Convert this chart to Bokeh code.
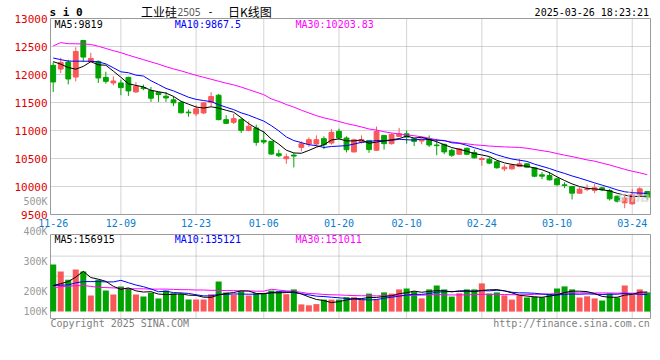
import numpy as np
from bokeh.plotting import figure
from bokeh.layouts import column
from bokeh.models import ColumnDataSource, Label, Range1d
from bokeh.core.properties import value
from bokeh.embed import file_html
from bokeh.resources import INLINE

# ---------------- data ----------------
dates = ["11-26", "11-27", "11-28", "11-29",
         "12-02", "12-03", "12-04", "12-05", "12-06", "12-09", "12-10", "12-11", "12-12", "12-13",
         "12-16", "12-17", "12-18", "12-19", "12-20", "12-23", "12-24", "12-25", "12-26", "12-27", "12-30", "12-31",
         "01-02", "01-03", "01-06", "01-07", "01-08", "01-09", "01-10", "01-13", "01-14", "01-15", "01-16", "01-17",
         "01-20", "01-21", "01-22", "01-23", "01-24", "01-27",
         "02-05", "02-06", "02-07", "02-10", "02-11", "02-12", "02-13", "02-14", "02-17", "02-18", "02-19", "02-20", "02-21",
         "02-24", "02-25", "02-26", "02-27", "02-28",
         "03-03", "03-04", "03-05", "03-06", "03-07", "03-10", "03-11", "03-12", "03-13", "03-14",
         "03-17", "03-18", "03-19", "03-20", "03-21", "03-24", "03-25", "03-26"]

tick_dates = ["11-26", "12-09", "12-23", "01-06", "01-20", "02-10", "02-24", "03-10", "03-24"]

open_ = [12163, 12097, 12222, 11955, 12607, 12234, 12234, 11949, 11849, 11849,
         11949, 11689, 11766, 11713, 11677, 11612, 11547, 11500, 11328, 11298,
         11313, 11504, 11630, 11194, 11146, 11194, 11003, 11045, 10824, 10806,
         10585, 10496, 10561, 10698, 10758, 10758, 10854, 10776, 10985, 10866,
         10618, 10788, 10823, 10647, 10912, 10765, 10894, 10941, 10853, 10812,
         10847, 10741, 10753, 10647, 10576, 10682, 10606, 10482, 10488, 10441,
         10315, 10315, 10357, 10405, 10333, 10208, 10196, 10137, 10030, 10000,
         9881, 9946, 9929, 9976, 9929, 9827, 9708, 9690, 9851, 9911]
high = [12222, 12299, 12263, 12488, 12620, 12388, 12251, 12050, 11967, 11908,
        11960, 11861, 11819, 11778, 11689, 11689, 11612, 11529, 11375, 11452,
        11510, 11684, 11654, 11272, 11296, 11224, 11164, 11104, 10985, 10810,
        10657, 10585, 10597, 10806, 10878, 10913, 10896, 11027, 11033, 10896,
        10853, 10912, 10830, 11070, 10920, 10953, 11047, 11000, 10865, 10853,
        10912, 10853, 10765, 10676, 10688, 10694, 10659, 10529, 10529, 10459,
        10393, 10405, 10494, 10417, 10345, 10256, 10256, 10155, 10077, 10000,
        9988, 10036, 10048, 9988, 9958, 9839, 9869, 9958, 9988, 9917]
low = [11689, 12026, 11825, 11878, 12222, 12216, 11849, 11837, 11807, 11630,
       11618, 11671, 11719, 11511, 11511, 11511, 11434, 11304, 11245, 11257,
       11295, 11433, 11182, 11116, 11116, 10955, 10985, 10728, 10758, 10567,
       10525, 10406, 10340, 10627, 10710, 10710, 10669, 10746, 10836, 10609,
       10606, 10765, 10600, 10635, 10659, 10747, 10882, 10765, 10723, 10753,
       10706, 10559, 10576, 10529, 10571, 10559, 10500, 10371, 10400, 10318,
       10274, 10303, 10345, 10333, 10167, 10131, 10107, 10018, 9970, 9768,
       9869, 9917, 9881, 9917, 9750, 9714, 9613, 9679, 9821, 9762]
close = [11867, 12216, 11920, 12411, 12311, 12287, 11938, 11878, 11884, 11766,
         11707, 11790, 11748, 11577, 11642, 11582, 11494, 11316, 11316, 11387,
         11492, 11606, 11194, 11128, 11212, 11003, 11075, 10788, 10794, 10579,
         10549, 10531, 10543, 10764, 10836, 10836, 10746, 10967, 10866, 10657,
         10835, 10835, 10659, 10982, 10765, 10929, 10941, 10882, 10806, 10835,
         10741, 10729, 10618, 10559, 10671, 10576, 10512, 10500, 10418, 10335,
         10345, 10375, 10405, 10345, 10184, 10184, 10119, 10030, 10018, 9881,
         9952, 9958, 9976, 9940, 9780, 9738, 9792, 9851, 9958, 9810]
volume = [289000, 266000, 238000, 272000, 266000, 186000, 238000, 202000, 189000, 216000,
          210000, 189000, 182000, 195000, 176000, 202000, 193000, 191000, 172000, 172000,
          172000, 190000, 232000, 196000, 188000, 200000, 186000, 193000, 192000, 202000,
          200000, 190000, 206000, 156000, 153000, 157000, 172000, 172000, 172000, 180000,
          180000, 172000, 192000, 172000, 196000, 192000, 206000, 209000, 199000, 176000,
          206000, 219000, 206000, 182000, 193000, 206000, 206000, 226000, 192000, 196000,
          186000, 172000, 186000, 179000, 182000, 180000, 190000, 209000, 216000, 206000,
          179000, 183000, 176000, 169000, 192000, 179000, 219000, 187000, 206000, 196000]

# moving-average values at the start of the window (they include days before 11-26)
ma5_head = [12230, 12185, 12125, 12095]
ma10_head = [12295, 12265, 12240, 12238, 12238, 12236, 12225, 12190, 12120]
ma30_head = [12510, 12570, 12550, 12548, 12545, 12536, 12505, 12465, 12425, 12390,
             12345, 12305, 12265, 12225, 12185, 12140, 12100, 12065, 12025, 11985,
             11950, 11915, 11880, 11845, 11815, 11775, 11730, 11685, 11640]
vma5_head = [219000, 225000, 232000, 247000]
vma10_head = [219000, 220000, 221000, 228000, 232000, 232000, 232000, 231000, 231000]
vma30_head = [211000, 215000, 217000, 218000, 219000, 216000, 213000, 212000, 211000, 210000,
              208000, 208000, 208000, 207000, 207000, 207000, 206000, 205000, 205000, 204000,
              204000, 203000, 203000, 202000, 202000, 201000, 201000, 200000, 200000]

price_ticks = [9500, 10000, 10500, 11000, 11500, 12000, 12500, 13000]
vol_ticks = [100000, 200000, 300000, 400000, 500000]
vol_grid = [250000, 317000]

# ---------------- layout / styling constants ----------------
RED = "#fa5858"
GREEN = "#00a300"
GRID = "#a8a8a8"
FRAME = "#9a9a9a"
MONO = "DejaVu Sans Mono"
CJK = "Noto Sans CJK SC"

W, H = 660, 330
FL, FR = 50, 650            # panel left / right (px)
XR = (-0.36, 79.43)         # index range spanned by the panels
PT, PB = 18, 214            # price panel top / bottom (px)
VT, VB = 234, 318           # volume panel top / bottom (px)
P_RANGE = (9500, 13000)
V_RANGE = (109000, 389000)
VOL_BASE = 132000


def px2x(px):
    return XR[0] + (px - FL) * (XR[1] - XR[0]) / (FR - FL)


def py2p(py):
    return P_RANGE[1] - (py - PT) * (P_RANGE[1] - P_RANGE[0]) / (PB - PT)


def py2v(py):
    return V_RANGE[1] - (py - VT) * (V_RANGE[1] - V_RANGE[0]) / (VB - VT)


def moving_average(vals, n, head):
    out = list(head)
    for i in range(n - 1, len(vals)):
        out.append(float(np.mean(vals[i - n + 1:i + 1])))
    return out


idx = np.arange(len(dates))
o = np.array(open_, float)
c = np.array(close, float)
colors = [RED if cc >= oo else GREEN for oo, cc in zip(o, c)]
tick_idx = [dates.index(d) for d in tick_dates]

src = ColumnDataSource(dict(
    x=idx, high=high, low=low, top=np.maximum(o, c), bottom=np.minimum(o, c),
    color=colors, vol=volume,
    ma5=moving_average(close, 5, ma5_head),
    ma10=moving_average(close, 10, ma10_head),
    ma30=moving_average(close, 30, ma30_head),
    vma5=moving_average(volume, 5, vma5_head),
    vma10=moving_average(volume, 10, vma10_head),
    vma30=moving_average(volume, 30, vma30_head),
))

p = figure(width=W, height=H,
           x_range=Range1d(px2x(0), px2x(W)), y_range=Range1d(py2p(H), py2p(0)),
           output_backend="svg", toolbar_location=None,
           x_axis_location=None, y_axis_location=None,
           min_border=0, min_border_left=0, min_border_right=0,
           min_border_top=0, min_border_bottom=0)
p.extra_y_ranges = {"vol": Range1d(py2v(H), py2v(0))}
p.grid.visible = False
p.outline_line_color = None
p.background_fill_color = "white"
p.border_fill_color = "white"

# ---- grid lines (dotted) ----
n_v = len(tick_idx) - 1
p.segment(x0=tick_idx[1:], y0=[P_RANGE[0]] * n_v, x1=tick_idx[1:], y1=[P_RANGE[1]] * n_v,
          line_color=GRID, line_dash="1 1", line_width=1)
hp = price_ticks[1:-1]
p.segment(x0=[XR[0]] * len(hp), y0=hp, x1=[XR[1]] * len(hp), y1=hp,
          line_color=GRID, line_dash="1 1", line_width=1)
p.segment(x0=tick_idx[1:], y0=[V_RANGE[0]] * n_v, x1=tick_idx[1:], y1=[V_RANGE[1]] * n_v,
          line_color=GRID, line_dash="1 1", line_width=1, y_range_name="vol")
p.segment(x0=[XR[0]] * len(vol_grid), y0=vol_grid, x1=[XR[1]] * len(vol_grid), y1=vol_grid,
          line_color=GRID, line_dash="1 1", line_width=1, y_range_name="vol")

# ---- panel borders ----
p.quad(left=[XR[0]], right=[XR[1]], bottom=[P_RANGE[0]], top=[P_RANGE[1]],
       fill_color=None, line_color=FRAME, line_width=1)
p.quad(left=[XR[0]], right=[XR[1]], bottom=[V_RANGE[0]], top=[V_RANGE[1]],
       fill_color=None, line_color=FRAME, line_width=1, y_range_name="vol")

# ---- watermark ----
p.add_layout(Label(x=px2x(617), y=py2p(196), text="sina", text_color="#d2d2d2",
                   text_font_size="14px", text_font="DejaVu Sans", text_font_style="bold italic",
                   text_align="left", text_baseline="middle", text_alpha=0.7))

# ---- candles ----
p.segment(x0="x", y0="high", x1="x", y1="low", line_color="color", line_width=1, source=src)
p.vbar(x="x", width=0.64, top="top", bottom="bottom", fill_color="color", line_color="color",
       line_width=1, source=src)
p.line("x", "ma30", line_color="#ff00ff", line_width=1, source=src)
p.line("x", "ma10", line_color="#0000ff", line_width=1, source=src)
p.line("x", "ma5", line_color="#000000", line_width=1, source=src)

# ---- volume ----
p.vbar(x="x", width=0.8, top="vol", bottom=VOL_BASE, fill_color="color", line_color=None,
       source=src, y_range_name="vol")
p.line("x", "vma30", line_color="#ff00ff", line_width=1, source=src, y_range_name="vol")
p.line("x", "vma10", line_color="#0000ff", line_width=1, source=src, y_range_name="vol")
p.line("x", "vma5", line_color="#000000", line_width=1, source=src, y_range_name="vol")

# ---- tick labels ----
lab_x = px2x(FL - 3)
p.text(x=[lab_x] * len(price_ticks), y=price_ticks, text=[str(t) for t in price_ticks],
       text_color="#e00000", text_font=value(MONO), text_font_size="11px",
       text_align="right", text_baseline="middle")
vol_label_y = [max(v, VOL_BASE) for v in vol_ticks]   # lowest label sits on the bar base
p.text(x=[lab_x] * len(vol_ticks), y=vol_label_y, text=[f"{v // 1000}K" for v in vol_ticks],
       text_color="#999999", text_font=value(MONO), text_font_size="10px",
       text_align="right", text_baseline="middle", y_range_name="vol")
p.text(x=tick_idx, y=[py2p(222)] * len(tick_idx), text=tick_dates,
       text_color="#0a7ccc", text_font=value(MONO), text_font_size="10px",
       text_align="center", text_baseline="middle")


def label(px, py, text, color, size="10px", align="left", font=MONO, style="normal"):
    p.add_layout(Label(x=px2x(px), y=py2p(py), text=text, text_color=color, text_font_size=size,
                       text_align=align, text_baseline="middle", text_font=font,
                       text_font_style=style))


# ---- titles / headers / footers ----
label(49, 12, "s i 0", "#000000", size="11px", style="bold")
label(140.5, 10.5, "工业硅", "#000000", size="12px", font=CJK)
label(177, 11, "2505", "#555555", size="10px", font="Noto Sans")
label(207, 10.5, "-", "#000000", size="10px")
label(227.5, 10.5, "日K线图", "#000000", size="12px", font=CJK)
label(648.5, 12, "2025-03-26 18:23:21", "#000000", align="right")
label(54, 23.8, "MA5:9819", "#000000")
label(174.3, 23.8, "MA10:9867.5", "#0000ff")
label(295, 23.8, "MA30:10203.83", "#ff00ff")
label(54, 238.7, "MA5:156915", "#000000")
label(174.3, 238.7, "MA10:135121", "#0000ff")
label(295, 238.7, "MA30:151011", "#ff00ff")
label(50, 323.3, "Copyright 2025 SINA.COM", "#808080")
label(649.3, 323.3, "http://finance.sina.com.cn", "#808080", align="right")

layout = column(p, spacing=0)

open("out.html", "w").write(file_html(layout, INLINE))
